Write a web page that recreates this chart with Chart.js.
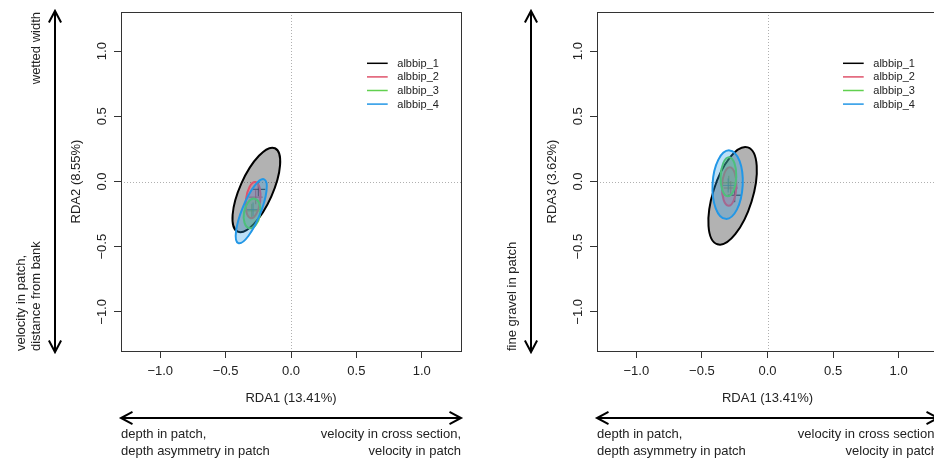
<!DOCTYPE html>
<html>
<head>
<meta charset="utf-8">
<script src="https://cdn.jsdelivr.net/npm/chart.js@4.4.1/dist/chart.umd.min.js"></script>
<style>
  html, body { margin: 0; padding: 0; background: #fff; }
  #wrap { position: relative; width: 934px; height: 461px; overflow: hidden; }
  canvas { position: absolute; top: 0; }
</style>
</head>
<body>
<div id="wrap">
  <canvas id="rda12" width="470" height="461" style="left:0px"></canvas>
  <canvas id="rda13" width="480" height="461" style="left:470px"></canvas>
</div>
<script>
const grupos = ['albbip_1', 'albbip_2', 'albbip_3', 'albbip_4']
const cores = ['#000000', '#DF536B', '#61D04F', '#2297E6']
const ticksEixo = [-1, -0.5, 0, 0.5, 1]

// RDA1 x RDA2 : centro, semi-eixos e angulo (graus) de cada elipse
const centroX12 = [-0.265, -0.29, -0.298, -0.304]
const centroY12 = [-0.065, -0.143, -0.245, -0.228]
const semiA12 = [0.35, 0.14, 0.115, 0.264]
const semiB12 = [0.125, 0.055, 0.062, 0.071]
const angulo12 = [66, 83, 80, 68]
const cruzX12 = [-0.25, -0.27, -0.30, -0.29]
const cruzY12 = [-0.06, -0.12, -0.225, -0.215]

// RDA1 x RDA3
const centroX13 = [-0.266, -0.292, -0.298, -0.304]
const centroY13 = [-0.11, -0.038, 0.036, -0.024]
const semiA13 = [0.389, 0.148, 0.15, 0.263]
const semiB13 = [0.151, 0.055, 0.06, 0.115]
const angulo13 = [72.7, 88, 88, 87]
const cruzX13 = [-0.25, -0.28, -0.295, -0.30]
const cruzY13 = [-0.105, -0.05, -0.01, -0.03]

Chart.defaults.font.family = "'Liberation Sans', Arial, sans-serif"
Chart.defaults.color = '#222'

const rgba = (hex, a) => {
  const n = parseInt(hex.slice(1), 16)
  return `rgba(${n >> 16},${(n >> 8) & 255},${n & 255},${a})`
}
const formata = v => (v < 0 ? '\u2212' : '') + Math.abs(v).toFixed(1)

const seta = (ctx, x1, y1, x2, y2) => {
  const ang = Math.atan2(y2 - y1, x2 - x1)
  const L = 13, abre = 28 * Math.PI / 180
  ctx.beginPath()
  ctx.moveTo(x1, y1); ctx.lineTo(x2, y2)
  for (const [x, y, a] of [[x2, y2, ang + Math.PI], [x1, y1, ang]]) {
    ctx.moveTo(x + L * Math.cos(a - abre), y + L * Math.sin(a - abre))
    ctx.lineTo(x, y)
    ctx.lineTo(x + L * Math.cos(a + abre), y + L * Math.sin(a + abre))
  }
  ctx.stroke()
}

const textoRot = (ctx, txt, x, y, alinha) => {
  ctx.save()
  ctx.translate(x, y)
  ctx.rotate(-Math.PI / 2)
  ctx.textAlign = alinha
  ctx.textBaseline = 'alphabetic'
  ctx.fillText(txt, 0, 0)
  ctx.restore()
}

const criaPainel = (id, cfg) => {
  const decoracao = {
    id: 'decoracao',
    beforeDatasetsDraw(chart) {
      const { ctx, chartArea: ca, scales: { x, y } } = chart
      ctx.save()
      ctx.strokeStyle = '#b0b0b0'
      ctx.lineWidth = 1
      ctx.setLineDash([1, 2])
      ctx.beginPath()
      const x0 = Math.round(x.getPixelForValue(0)) + 0.5
      const y0 = Math.round(y.getPixelForValue(0)) + 0.5
      ctx.moveTo(x0, ca.top); ctx.lineTo(x0, ca.bottom)
      ctx.moveTo(ca.left, y0); ctx.lineTo(ca.right, y0)
      ctx.stroke()
      ctx.restore()
    },
    afterDatasetsDraw(chart) {
      const { ctx, chartArea: ca, scales: { x, y } } = chart
      const kx = x.getPixelForValue(1) - x.getPixelForValue(0)
      const ky = y.getPixelForValue(0) - y.getPixelForValue(1)
      ctx.save()
      ctx.beginPath()
      ctx.rect(ca.left, ca.top, ca.right - ca.left, ca.bottom - ca.top)
      ctx.clip()
      grupos.forEach((g, i) => {
        ctx.save()
        ctx.translate(x.getPixelForValue(cfg.cx[i]), y.getPixelForValue(cfg.cy[i]))
        ctx.scale(kx, -ky)
        ctx.rotate(cfg.ang[i] * Math.PI / 180)
        ctx.beginPath()
        ctx.ellipse(0, 0, cfg.a[i], cfg.b[i], 0, 0, 2 * Math.PI)
        ctx.restore()
        ctx.fillStyle = rgba(cores[i], 0.3)
        ctx.fill()
        ctx.strokeStyle = cores[i]
        ctx.lineWidth = 2
        ctx.stroke()
      })
      ctx.restore()

      // legenda
      ctx.save()
      ctx.font = "11px 'Liberation Sans', Arial, sans-serif"
      ctx.textBaseline = 'middle'
      ctx.textAlign = 'left'
      grupos.forEach((g, i) => {
        const yy = ca.top + 51.3 + i * 13.6
        ctx.strokeStyle = cores[i]
        ctx.lineWidth = 1.5
        ctx.beginPath()
        ctx.moveTo(ca.left + 246, yy); ctx.lineTo(ca.left + 266.7, yy)
        ctx.stroke()
        ctx.fillStyle = '#222'
        ctx.fillText(g, ca.left + 276.3, yy + 0.5)
      })
      ctx.restore()
    },
    afterDraw(chart) {
      const { ctx, chartArea: ca, scales: { y } } = chart
      ctx.save()
      ctx.strokeStyle = '#333'
      ctx.lineWidth = 1
      ctx.strokeRect(Math.round(ca.left) + 0.5, Math.round(ca.top) + 0.5,
        Math.round(ca.right - ca.left), Math.round(ca.bottom - ca.top))

      ctx.fillStyle = '#222'
      ctx.font = "13px 'Liberation Sans', Arial, sans-serif"
      y.ticks.forEach(t => textoRot(ctx, formata(t.value), ca.left - 15, y.getPixelForValue(t.value), 'center'))
      const meioY = (ca.top + ca.bottom) / 2
      const meioX = (ca.left + ca.right) / 2
      textoRot(ctx, cfg.tituloY, ca.left - 41, meioY, 'center')
      ctx.textAlign = 'center'
      ctx.fillText('RDA1 (13.41%)', meioX, 402)

      // setas e interpretacao dos eixos
      ctx.strokeStyle = '#000'
      ctx.lineWidth = 2
      seta(ctx, ca.left - 66, ca.top - 1, ca.left - 66, ca.bottom + 1)
      seta(ctx, ca.left, 418, ca.right, 418)

      if (cfg.topo) textoRot(ctx, cfg.topo, ca.left - 81, ca.top, 'right')
      cfg.base.forEach((t, k) => {
        textoRot(ctx, t, ca.left - 81 - (cfg.base.length - 1 - k) * 15.5, ca.bottom, 'left')
      })
      ctx.textAlign = 'left'
      ctx.fillText('depth in patch,', ca.left, 438)
      ctx.fillText('depth asymmetry in patch', ca.left, 455)
      ctx.textAlign = 'right'
      ctx.fillText('velocity in cross section,', ca.right, 438)
      ctx.fillText('velocity in patch', ca.right, 455)
      ctx.restore()
    }
  }

  const fixaTicks = axis => { axis.ticks = ticksEixo.map(v => ({ value: v })) }

  new Chart(document.getElementById(id), {
    type: 'scatter',
    data: {
      datasets: [{
        data: cfg.crX.map((v, i) => ({ x: v, y: cfg.crY[i] })),
        pointStyle: 'cross',
        pointRadius: 7,
        pointHoverRadius: 7,
        pointBorderWidth: 1,
        pointBorderColor: cores.map(c => rgba(c, 0.8)),
        showLine: false
      }]
    },
    options: {
      responsive: false,
      animation: false,
      events: [],
      layout: { padding: { top: 12, right: cfg.padDir, bottom: 0, left: 0 } },
      plugins: { legend: { display: false }, tooltip: { enabled: false } },
      scales: {
        x: {
          type: 'linear', min: -1.3, max: 1.3,
          afterBuildTicks: fixaTicks,
          afterFit: s => { s.height = 110 },
          grid: { drawOnChartArea: false, drawTicks: true, tickLength: 7, color: '#333' },
          border: { display: false },
          ticks: { font: { size: 13 }, color: '#222', padding: 6, callback: formata, maxRotation: 0 }
        },
        y: {
          type: 'linear', min: -1.3, max: 1.3,
          afterBuildTicks: fixaTicks,
          afterFit: s => { s.width = cfg.largY },
          grid: { drawOnChartArea: false, drawTicks: true, tickLength: 7, color: '#333' },
          border: { display: false },
          ticks: { display: false }
        }
      }
    },
    plugins: [decoracao]
  })
}

criaPainel('rda12', {
  cx: centroX12, cy: centroY12, a: semiA12, b: semiB12, ang: angulo12,
  crX: cruzX12, crY: cruzY12,
  tituloY: 'RDA2 (8.55%)', topo: 'wetted width',
  base: ['velocity in patch,', 'distance from bank'],
  largY: 121, padDir: 9
})

criaPainel('rda13', {
  cx: centroX13, cy: centroY13, a: semiA13, b: semiB13, ang: angulo13,
  crX: cruzX13, crY: cruzY13,
  tituloY: 'RDA3 (3.62%)', topo: null,
  base: ['fine gravel in patch'],
  largY: 127, padDir: 12
})
</script>
</body>
</html>
